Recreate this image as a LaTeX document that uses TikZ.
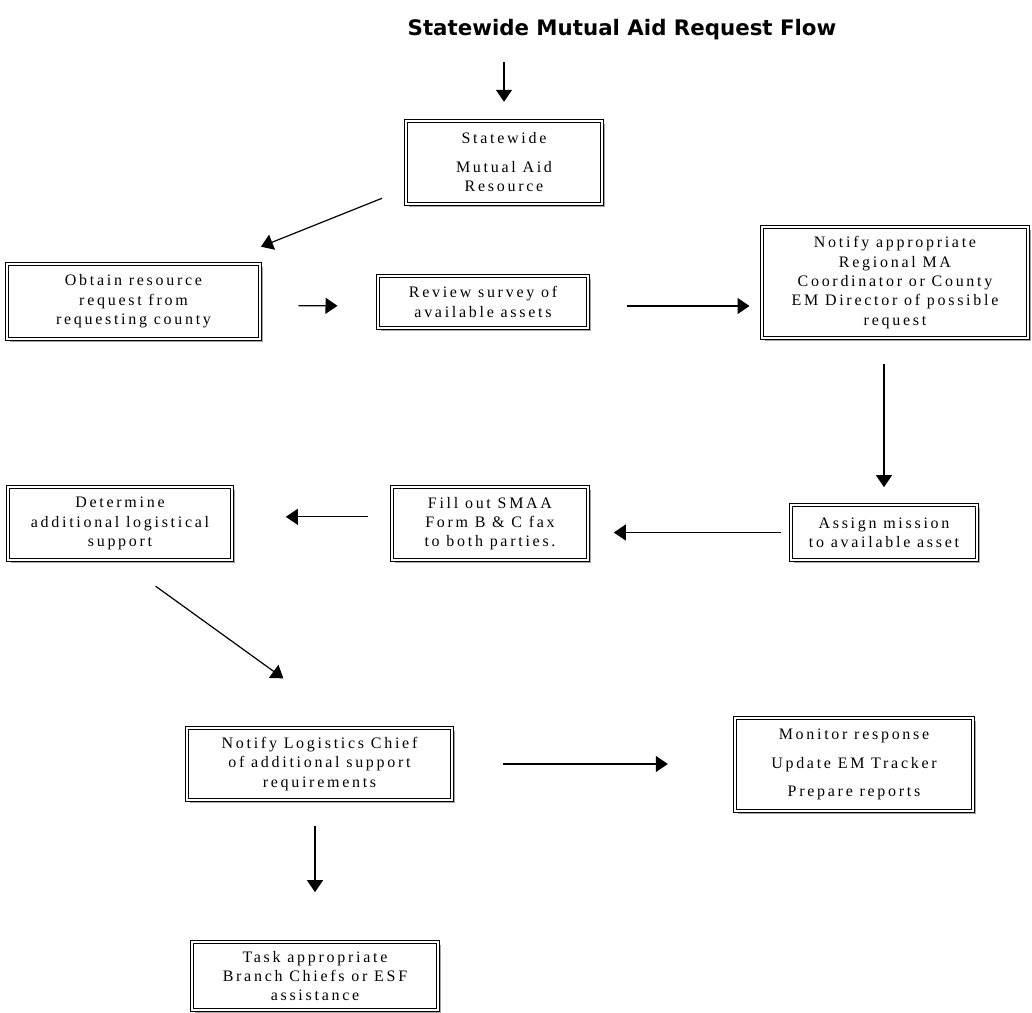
\documentclass[tikz,border=0pt]{standalone}
\usepackage{fontspec}
\setmainfont{Liberation Serif}
\newfontfamily\boxfont[LetterSpace=17]{Liberation Serif}
\newfontfamily\titlefont{DejaVu Sans}
\usetikzlibrary{arrows.meta,shadows}

\tikzset{
  flowbox/.style={draw, double=white, double distance=1.3pt, line width=0.75pt,
    fill=white, align=center, inner sep=2pt,
    font=\boxfont\fontsize{12}{14.5}\selectfont,
    drop shadow={shadow xshift=2pt, shadow yshift=-2pt, fill=gray!70, opacity=1}},
  boxsize/.style 2 args={minimum width=#1*0.75pt, minimum height=#2*0.75pt},
  flowarrow/.style={-{Triangle[length=9pt,width=12pt]}, line width=0.9pt},
}

\begin{document}
\begin{tikzpicture}[x=0.75pt, y=-0.75pt]
  \useasboundingbox (0,0) rectangle (1032,1013);

  % Title
  \node[font=\titlefont\bfseries\fontsize{16}{19}\selectfont] (title) at (622,30)
    {Statewide Mutual Aid Request Flow};

  % Boxes, top row
  \node[flowbox, boxsize={196}{83}] (statewide) at (504,162.5)
    {Statewide\\[7pt]Mutual Aid\\Resource};
  \node[flowbox, boxsize={253}{75}] (obtain) at (133.5,301.5)
    {Obtain resource\\request from\\requesting county};
  \node[flowbox, boxsize={210}{52}] (review) at (483,302)
    {Review survey of\\available assets};
  \node[flowbox, boxsize={266}{111}] (notify) at (895,282.5)
    {Notify appropriate\\Regional MA\\Coordinator or County\\EM Director of possible\\request};

  % Boxes, middle row
  \node[flowbox, boxsize={224}{73}] (determine) at (120,523.5)
    {Determine\\additional logistical\\support};
  \node[flowbox, boxsize={196}{73}] (fill) at (490,523.5)
    {Fill out SMAA\\Form B \& C fax\\to both parties.};
  \node[flowbox, boxsize={186}{55}] (assign) at (884,532.5)
    {Assign mission\\to available asset};

  % Boxes, bottom rows
  \node[flowbox, boxsize={265}{72}] (logistics) at (319.5,764)
    {Notify Logistics Chief\\of additional support\\requirements};
  \node[flowbox, boxsize={238}{93}] (monitor) at (854,764.5)
    {Monitor response\\[7pt]Update EM Tracker\\[7pt]Prepare reports};
  \node[flowbox, boxsize={246}{68}] (task) at (315,976)
    {Task appropriate\\Branch Chiefs or ESF\\assistance};

  % Draw arrows
  \coordinate (entry) at (504,62);
  \draw[flowarrow, shorten >=14pt] (entry) -- (statewide);
  \draw[flowarrow, shorten <=19pt, shorten >=34pt] (statewide.195) -- (obtain.24);
  \draw[flowarrow, shorten <=28.5pt, shorten >=30pt]
    ([yshift=-3pt]obtain.east) -- ([yshift=-3pt]review.west);
  \draw[flowarrow, shorten <=29pt, shorten >=9pt]
    ([yshift=-3pt]review.east) -- ([yshift=-3pt]review.east -| notify.west);
  \draw[flowarrow, shorten <=19pt, shorten >=13pt]
    (assign.north |- notify.south) -- (assign.north);
  \draw[flowarrow, shorten <=7.5pt, shorten >=19pt]
    (assign.west) -- (assign.west -| fill.east);
  \draw[flowarrow, shorten <=18pt, shorten >=40pt]
    ([yshift=5pt]fill.west) -- ([yshift=5pt]fill.west -| determine.east);
  \draw[flowarrow, shorten <=33pt, shorten >=63pt]
    (determine.south) -- ([xshift=24pt]logistics.north);
  \draw[flowarrow, shorten <=38pt, shorten >=50pt]
    (logistics.east) -- (logistics.east -| monitor.west);
  \draw[flowarrow, shorten <=19pt, shorten >=37pt]
    (task.north |- logistics.south) -- (task.north);
\end{tikzpicture}
\end{document}
